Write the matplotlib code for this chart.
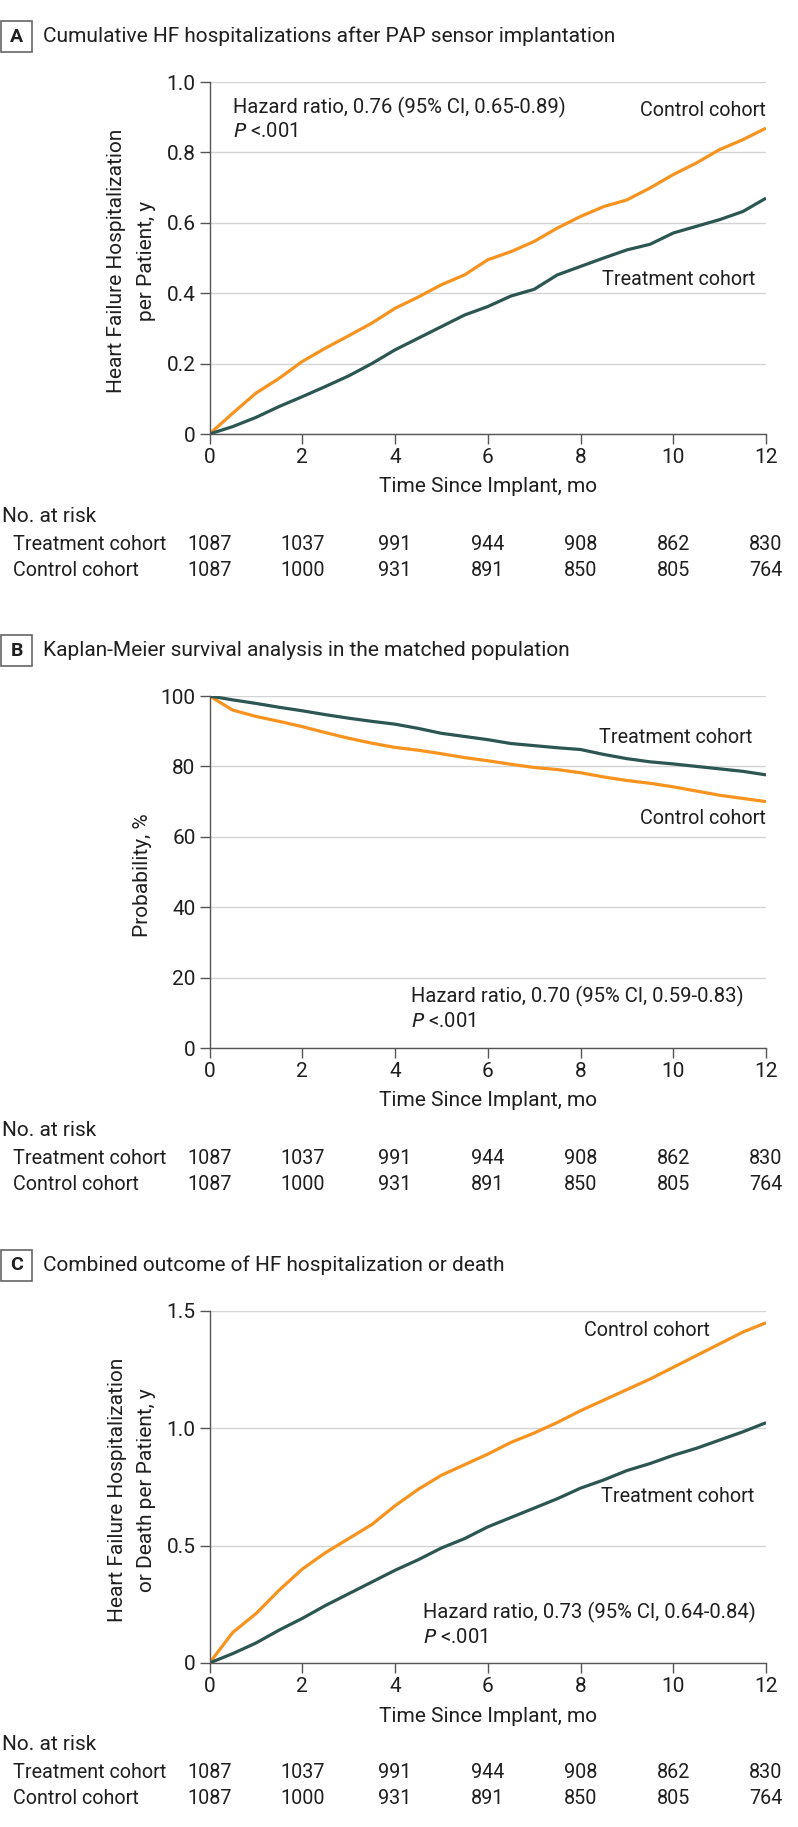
import numpy as np
import matplotlib.pyplot as plt
import matplotlib.patches as patches

plt.rcParams['font.family'] = ['Roboto', 'DejaVu Sans']

W, H = 798, 1827
ORANGE = '#F7931E'
TEAL = '#2B5651'
TEXT = '#1f1f1f'
GRID = '#d4d4d4'
SPINE = '#555555'

months = np.arange(0, 12.5, 0.5)
tick_months = [0, 2, 4, 6, 8, 10, 12]

# Panel A - cumulative HF hospitalizations per patient
a_control = [0, 0.059, 0.116, 0.158, 0.206, 0.244, 0.279, 0.315, 0.357, 0.389,
             0.424, 0.452, 0.495, 0.518, 0.547, 0.585, 0.618, 0.646, 0.665, 0.699,
             0.737, 0.770, 0.808, 0.836, 0.869]
a_treatment = [0, 0.021, 0.047, 0.078, 0.106, 0.135, 0.165, 0.200, 0.239, 0.272,
               0.305, 0.338, 0.362, 0.392, 0.411, 0.452, 0.476, 0.500, 0.523, 0.539,
               0.571, 0.590, 0.609, 0.632, 0.670]

# Panel B - Kaplan-Meier survival, %
b_treatment = [100, 98.9, 97.9, 96.8, 95.8, 94.7, 93.7, 92.8, 92.0, 90.8, 89.4,
               88.5, 87.6, 86.5, 85.9, 85.3, 84.8, 83.4, 82.2, 81.3, 80.7, 80.0,
               79.3, 78.6, 77.6]
b_control = [100, 96.0, 94.2, 92.8, 91.3, 89.6, 88.0, 86.6, 85.4, 84.6, 83.6,
             82.5, 81.6, 80.6, 79.7, 79.1, 78.2, 77.0, 76.0, 75.2, 74.2, 73.0,
             71.8, 70.9, 70.0]

# Panel C - HF hospitalization or death per patient
c_control = [0, 0.13, 0.21, 0.31, 0.40, 0.47, 0.53, 0.59, 0.67, 0.74, 0.80, 0.845,
             0.89, 0.94, 0.98, 1.025, 1.075, 1.12, 1.165, 1.21, 1.26, 1.31, 1.36,
             1.41, 1.45]
c_treatment = [0, 0.04, 0.085, 0.14, 0.19, 0.245, 0.295, 0.345, 0.395, 0.44, 0.49,
               0.53, 0.58, 0.62, 0.66, 0.70, 0.745, 0.78, 0.82, 0.85, 0.885, 0.915,
               0.95, 0.985, 1.024]

risk_treatment = [1087, 1037, 991, 944, 908, 862, 830]
risk_control = [1087, 1000, 931, 891, 850, 805, 764]

hazard_a = 'Hazard ratio, 0.76 (95% CI, 0.65-0.89)'
hazard_b = 'Hazard ratio, 0.70 (95% CI, 0.59-0.83)'
hazard_c = 'Hazard ratio, 0.73 (95% CI, 0.64-0.84)'


def fx(x):
    return x / W


def fy(y):
    return 1 - y / H


fig = plt.figure(figsize=(W / 100, H / 100), dpi=100)

AX_LEFT, AX_RIGHT, AX_H = 209.5, 766, 352
FS_TICK = 15     # tick labels, axis labels, "No. at risk"
FS_ANN = 14.2    # curve labels, table rows
FS_HAZ = 14.6    # hazard ratio text


def panel(top, letter, title, ylabel_lines, ylim, yticks, yticklabels,
          control, treatment, labels, hazard, hazard_pos):
    # letter box and title
    box_top = top - 61
    fig.patches.append(patches.Rectangle((fx(1), fy(box_top + 31)), fx(31), 31 / H,
                                         transform=fig.transFigure, fill=False,
                                         ec='#666666', lw=1.2))
    fig.text(fx(16.5), fy(box_top + 15.5), letter, ha='center', va='center',
             fontsize=14, fontweight='bold', color=TEXT)
    fig.text(fx(43), fy(box_top + 15.5), title, ha='left', va='center',
             fontsize=15, color=TEXT)

    bottom = top + AX_H
    ax = fig.add_axes([fx(AX_LEFT), fy(bottom), fx(AX_RIGHT - AX_LEFT), AX_H / H])
    ax.plot(months, control, color=ORANGE, lw=2.3, solid_capstyle='butt')
    ax.plot(months, treatment, color=TEAL, lw=2.3, solid_capstyle='butt')
    ax.set_xlim(0, 12)
    ax.set_ylim(*ylim)
    ax.set_xticks(tick_months)
    ax.set_yticks(yticks)
    ax.set_yticklabels(yticklabels)
    ax.grid(axis='y', color=GRID, lw=1)
    ax.set_axisbelow(True)
    for s in ['top', 'right']:
        ax.spines[s].set_visible(False)
    for s in ['left', 'bottom']:
        ax.spines[s].set_color(SPINE)
        ax.spines[s].set_linewidth(1)
    ax.tick_params(direction='out', length=7, width=1, color=SPINE,
                   labelsize=FS_TICK, labelcolor=TEXT, pad=3)

    ax.set_xlabel('Time Since Implant, mo', fontsize=FS_TICK, color=TEXT,
                  va='center')
    ax.xaxis.set_label_coords(0.5, -53 / AX_H)

    # y label, one text per line
    for txt, xpx in ylabel_lines:
        fig.text(fx(xpx), fy(top + AX_H / 2 + 3), txt, rotation=90, ha='center',
                 va='center', fontsize=FS_TICK, color=TEXT)

    for (txt, x, y) in labels:
        ax.text(x, y, txt, ha='right', va='center', fontsize=FS_ANN, color=TEXT)
    hx, hy, py = hazard_pos
    ax.text(hx, hy, hazard, ha='left', va='center', fontsize=FS_HAZ, color=TEXT)
    ax.text(hx, py, '$\\mathit{P}$ <.001', ha='left', va='center',
            fontsize=FS_HAZ, color=TEXT)

    # number at risk table
    fig.text(fx(2), fy(bottom + 82), 'No. at risk', ha='left', va='center',
             fontsize=FS_TICK, color=TEXT)
    rows = [('Treatment cohort', risk_treatment, bottom + 110),
            ('Control cohort', risk_control, bottom + 136)]
    for name, counts, ypx in rows:
        fig.text(fx(13), fy(ypx), name, ha='left', va='center', fontsize=FS_ANN,
                 color=TEXT)
        for m, n in zip(tick_months, counts):
            ax.text(m, (bottom - ypx) / AX_H, str(n), ha='center', va='center',
                    fontsize=FS_ANN, color=TEXT,
                    transform=ax.get_xaxis_transform(), clip_on=False)
    return ax


panel(82, 'A', 'Cumulative HF hospitalizations after PAP sensor implantation',
      [('Heart Failure Hospitalization', 117), ('per Patient, y', 147)], (0, 1.0),
      [0, 0.2, 0.4, 0.6, 0.8, 1.0], ['0', '0.2', '0.4', '0.6', '0.8', '1.0'],
      a_control, a_treatment,
      [('Control cohort', 12, 0.918), ('Treatment cohort', 11.78, 0.44)],
      hazard_a, (0.51, 0.929, 0.859))

panel(696, 'B', 'Kaplan-Meier survival analysis in the matched population',
      [('Probability, %', 143)], (0, 100),
      [0, 20, 40, 60, 80, 100], ['0', '20', '40', '60', '80', '100'],
      b_control, b_treatment,
      [('Treatment cohort', 11.71, 88.1), ('Control cohort', 11.99, 65.3)],
      hazard_b, (4.34, 14.5, 7.4))

panel(1311, 'C', 'Combined outcome of HF hospitalization or death',
      [('Heart Failure Hospitalization', 118), ('or Death per Patient, y', 146)],
      (0, 1.5),
      [0, 0.5, 1.0, 1.5], ['0', '0.5', '1.0', '1.5'],
      c_control, c_treatment,
      [('Control cohort', 10.79, 1.419), ('Treatment cohort', 11.74, 0.709)],
      hazard_c, (4.6, 0.216, 0.11))

fig.savefig('out.png', dpi=100, facecolor='white')
